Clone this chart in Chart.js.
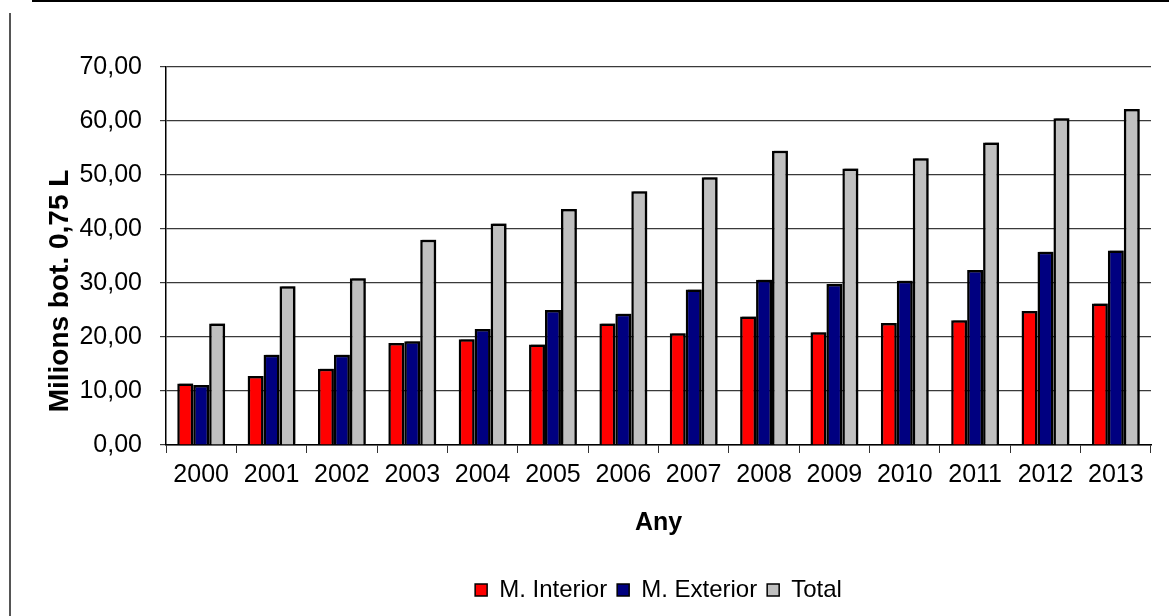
<!DOCTYPE html>
<html>
<head>
<meta charset="utf-8">
<script src="https://cdn.jsdelivr.net/npm/chart.js@4.4.0/dist/chart.umd.min.js"></script>
<style>
  html, body { margin: 0; padding: 0; background: #ffffff; }
  #wrap { position: relative; width: 1169px; height: 616px; overflow: hidden; }
  #topline { position: absolute; left: 32px; top: 0; width: 1137px; height: 2px; background: #000; }
  #leftline { position: absolute; left: 9px; top: 13px; width: 2px; height: 603px; background: #555; }
  canvas { position: absolute; left: 0; top: 0; }
</style>
</head>
<body>
<div id="wrap">
  <div id="topline"></div>
  <div id="leftline"></div>
  <canvas id="c" width="1169" height="616"></canvas>
</div>
<script>
const years = ['2000','2001','2002','2003','2004','2005','2006','2007','2008','2009','2010','2011','2012','2013'];
const mInterior = [11.4, 12.8, 14.1, 18.9, 19.6, 18.6, 22.5, 20.7, 23.8, 20.9, 22.6, 23.1, 24.8, 26.2];
const mExterior = [11.1, 16.7, 16.7, 19.2, 21.5, 25.0, 24.3, 28.8, 30.6, 29.8, 30.4, 32.4, 35.8, 36.0];
const total     = [22.5, 29.4, 30.9, 38.0, 41.0, 43.7, 47.0, 49.6, 54.5, 51.2, 53.1, 56.0, 60.5, 62.2];
const seriesNames = ['M. Interior', 'M. Exterior', 'Total'];
const yTitle = 'Milions bot. 0,75 L';
const xTitle = 'Any';

const FONT = "'Liberation Sans', Arial, sans-serif";

const shadowPlugin = {
  id: 'barShadow',
  beforeDatasetsDraw(chart) {
    const ctx = chart.ctx;
    ctx.save();
    ctx.shadowColor = 'rgba(0,0,0,0.45)';
    ctx.shadowOffsetX = 2;
    ctx.shadowOffsetY = -1;
    ctx.shadowBlur = 0;
  },
  afterDatasetsDraw(chart) {
    chart.ctx.restore();
  }
};

new Chart(document.getElementById('c'), {
  type: 'bar',
  data: {
    labels: years,
    datasets: [
      { label: seriesNames[0], data: mInterior, backgroundColor: '#FF0000', borderColor: '#000000', borderWidth: 2.5 },
      { label: seriesNames[1], data: mExterior, backgroundColor: '#000080', borderColor: '#000000', borderWidth: 2.5 },
      { label: seriesNames[2], data: total, backgroundColor: '#C0C0C0', borderColor: '#000000', borderWidth: 2.5 }
    ]
  },
  plugins: [shadowPlugin],
  options: {
    responsive: false,
    animation: false,
    devicePixelRatio: 1,
    layout: { padding: { left: 40, right: 18, top: 67, bottom: 4 } },
    datasets: { bar: { barPercentage: 1.0, categoryPercentage: 0.68 } },
    plugins: {
      legend: {
        position: 'bottom',
        fullSize: false,
        labels: {
          font: { family: FONT, size: 24 },
          color: '#000',
          boxWidth: 12,
          boxHeight: 12,
          padding: 10,
          generateLabels(chart) {
            return chart.data.datasets.map((d, i) => ({
              text: d.label,
              fillStyle: d.backgroundColor,
              strokeStyle: '#000',
              lineWidth: 1.5,
              datasetIndex: i,
              hidden: false,
              fontColor: '#000'
            }));
          }
        }
      },
      tooltip: { enabled: false }
    },
    scales: {
      x: {
        afterFit(s) { s.height = 123; },
        grid: { drawOnChartArea: false, tickLength: 8, color: '#333', offset: true },
        border: { color: '#000', width: 1.5 },
        ticks: { font: { family: FONT, size: 25 }, color: '#000', padding: 7, maxRotation: 0 },
        title: { display: true, text: xTitle, font: { family: FONT, size: 25, weight: 'bold' }, color: '#000', padding: { top: 0, bottom: 30 } }
      },
      y: {
        min: 0, max: 70,
        afterFit(s) { s.width = 126; },
        grid: { color: '#3a3a3a', lineWidth: 1.2, tickLength: 6 },
        border: { color: '#000', width: 1.5 },
        ticks: {
          stepSize: 10,
          font: { family: FONT, size: 25 },
          color: '#000',
          padding: 18,
          callback: v => v.toFixed(2).replace('.', ',')
        },
        title: { display: true, text: yTitle + '         ', font: { family: FONT, size: 28, weight: 'bold' }, color: '#000', padding: { top: 3, bottom: 0 } }
      }
    }
  }
});
</script>
</body>
</html>
